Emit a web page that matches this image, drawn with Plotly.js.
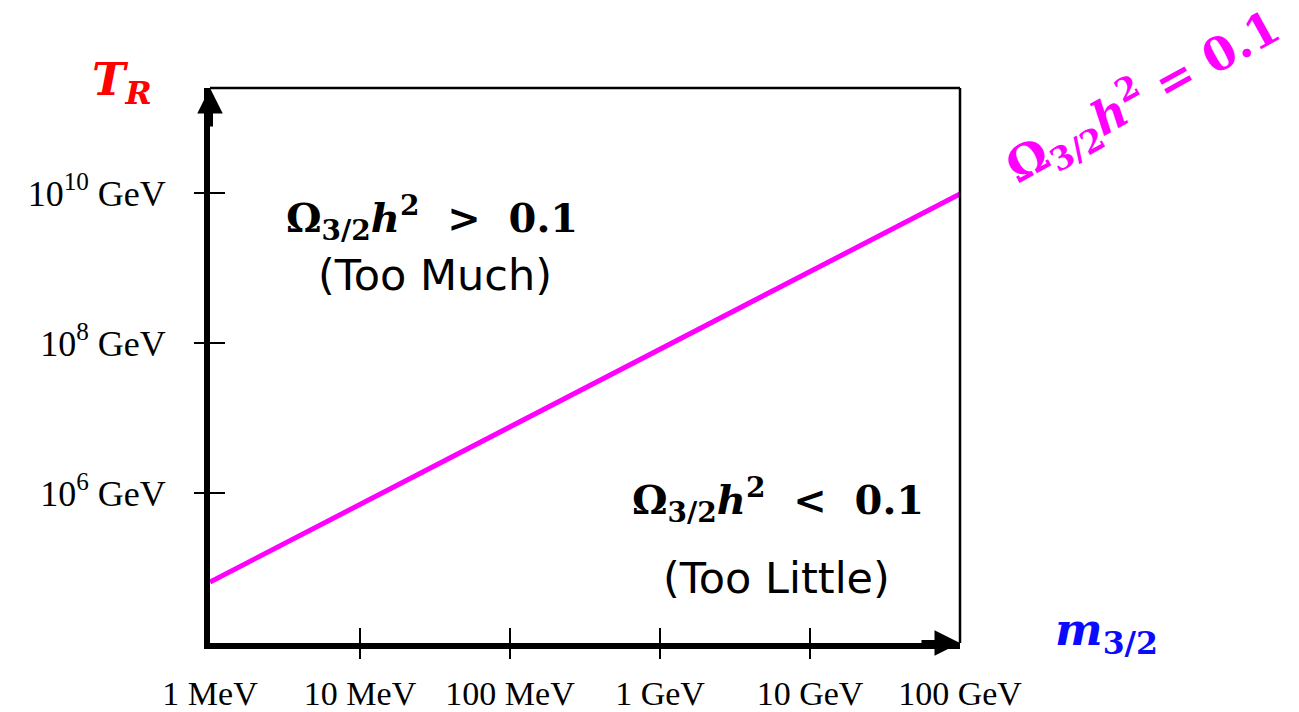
<!DOCTYPE html>
<html>
<head>
<meta charset="utf-8">
<script src="https://cdn.plot.ly/plotly-3.0.1.min.js"></script>
<style>
  html, body { margin: 0; padding: 0; background: #ffffff; }
  #chart { width: 1299px; height: 712px; }
</style>
</head>
<body>
<div id="chart"></div>
<script>
// Gravitino mass (GeV) and the reheating temperature (GeV) giving Ω_{3/2}h² = 0.1
const massGeV = [1e-3, 100];
const reheatGeV = [6.5e4, 9.7e9];

// Axis ticks (labels at every decade, tick marks only between the corners)
const massTickVals = [1e-3, 1e-2, 1e-1, 1, 10, 100];
const massTickText = ['1 MeV', '10 MeV', '100 MeV', '1 GeV', '10 GeV', '100 GeV'];
const massMarkVals = [1e-2, 1e-1, 1, 10];
const tempTickVals = [1e6, 1e8, 1e10];
const tempTickText = ['10<sup>6</sup>&nbsp;GeV', '10<sup>8</sup>&nbsp;GeV', '10<sup>10</sup>&nbsp;GeV'];

const SERIF = 'Liberation Serif, DejaVu Serif, serif';
const MATH = 'DejaVu Serif, Liberation Serif, serif';
const SANS = 'DejaVu Sans, Liberation Sans, sans-serif';
const MAGENTA = '#ff00ff';

const xRange = [-3, 2];
const yRange = [4, 11.4];

function ghost(xa, ya) {
  // invisible copy so an overlaid tick-mark axis pair gets drawn
  return {
    x: massGeV, y: reheatGeV, xaxis: xa, yaxis: ya, type: 'scatter', mode: 'lines',
    line: { color: 'rgba(0,0,0,0)', width: 0 }, hoverinfo: 'skip', showlegend: false
  };
}

const traces = [
  {
    x: massGeV, y: reheatGeV, type: 'scatter', mode: 'lines',
    line: { color: MAGENTA, width: 5 }, hoverinfo: 'skip', showlegend: false
  },
  ghost('x2', 'y2'),
  ghost('x3', 'y3')
];

const baseAxis = {
  type: 'log', showgrid: false, zeroline: false, fixedrange: true,
  tickmode: 'array', tickwidth: 2.5, tickcolor: '#000', ticklen: 15
};

function markAxis(range, vals, side, over, anchor) {
  return Object.assign({}, baseAxis, {
    range: range, tickvals: vals, overlaying: over, anchor: anchor,
    ticks: side, showticklabels: false, showline: false
  });
}

const layout = {
  width: 1299, height: 712,
  margin: { l: 210, r: 339, t: 88, b: 69 },
  paper_bgcolor: '#ffffff', plot_bgcolor: '#ffffff',
  showlegend: false,
  xaxis: Object.assign({}, baseAxis, {
    range: xRange, tickvals: massTickVals, ticktext: massTickText,
    ticks: 'outside', tickcolor: 'rgba(0,0,0,0)', showline: true, linewidth: 6, linecolor: '#000',
    tickfont: { family: SERIF, size: 34, color: '#000' }, ticklabelstandoff: 0
  }),
  yaxis: Object.assign({}, baseAxis, {
    range: yRange, tickvals: tempTickVals, ticktext: tempTickText,
    ticks: 'outside', tickcolor: 'rgba(0,0,0,0)', showline: true, linewidth: 6, linecolor: '#000',
    tickfont: { family: SERIF, size: 36, color: '#000' }, ticklabelstandoff: 16
  }),
  // outward and inward halves of the cross-shaped tick marks
  xaxis2: markAxis(xRange, massMarkVals, 'outside', 'x', 'y2'),
  yaxis2: markAxis(yRange, tempTickVals, 'outside', 'y', 'x2'),
  xaxis3: markAxis(xRange, massMarkVals, 'inside', 'x', 'y3'),
  yaxis3: markAxis(yRange, tempTickVals, 'inside', 'y', 'x3'),
  shapes: [
    // thin top and right frame
    { type: 'line', xref: 'paper', yref: 'paper', x0: 0, x1: 1, y0: 1, y1: 1, line: { color: '#000', width: 2.5 } },
    { type: 'line', xref: 'paper', yref: 'paper', x0: 1, x1: 1, y0: 0, y1: 1, line: { color: '#000', width: 2.5 } }
  ],
  annotations: [
    // axis arrowheads
    { xref: 'paper', yref: 'paper', x: 0, y: 1, ax: 0, ay: 40, text: '', showarrow: true,
      arrowhead: 2, arrowsize: 0.85, arrowwidth: 6, arrowcolor: '#000' },
    { xref: 'paper', yref: 'paper', x: 1, y: 0, ax: -40, ay: 0, text: '', showarrow: true,
      arrowhead: 2, arrowsize: 0.85, arrowwidth: 6, arrowcolor: '#000' },
    // axis names
    { xref: 'paper', yref: 'paper', x: -0.117, y: 1.011, xanchor: 'center', yanchor: 'middle',
      text: '<b><i>T<sub>R</sub></i></b>', showarrow: false,
      font: { family: MATH, size: 45, color: '#ff0000' } },
    { xref: 'paper', yref: 'paper', x: 1.195, y: 0.02, xanchor: 'center', yanchor: 'middle',
      text: '<b><i>m</i><sub>3/2</sub></b>', showarrow: false,
      font: { family: MATH, size: 45, color: '#0a0aff' } },
    // region labels
    { xref: 'paper', yref: 'paper', x: 0.296, y: 0.766, xanchor: 'center', yanchor: 'middle',
      text: '<b>Ω<sub>3/2</sub><i>h</i><sup>2</sup>&nbsp;&nbsp;>&nbsp;&nbsp;0.1</b>', showarrow: false,
      font: { family: MATH, size: 40, color: '#000' } },
    { xref: 'paper', yref: 'paper', x: 0.3, y: 0.663, xanchor: 'center', yanchor: 'middle',
      text: '(Too Much)', showarrow: false,
      font: { family: SANS, size: 43, color: '#000' } },
    { xref: 'paper', yref: 'paper', x: 0.757, y: 0.258, xanchor: 'center', yanchor: 'middle',
      text: '<b>Ω<sub>3/2</sub><i>h</i><sup>2</sup>&nbsp;&nbsp;<&nbsp;&nbsp;0.1</b>', showarrow: false,
      font: { family: MATH, size: 40, color: '#000' } },
    { xref: 'paper', yref: 'paper', x: 0.755, y: 0.117, xanchor: 'center', yanchor: 'middle',
      text: '(Too Little)', showarrow: false,
      font: { family: SANS, size: 43, color: '#000' } },
    // curve label
    { xref: 'paper', yref: 'paper', x: 1.244, y: 0.984, xanchor: 'center', yanchor: 'middle',
      text: '<b>Ω<sub>3/2</sub><i>h</i><sup>2</sup>&nbsp;=&nbsp;0.1</b>', showarrow: false, textangle: -29,
      font: { family: MATH, size: 46, color: MAGENTA } }
  ]
};

Plotly.newPlot('chart', traces, layout, { displayModeBar: false, staticPlot: true });
</script>
</body>
</html>
